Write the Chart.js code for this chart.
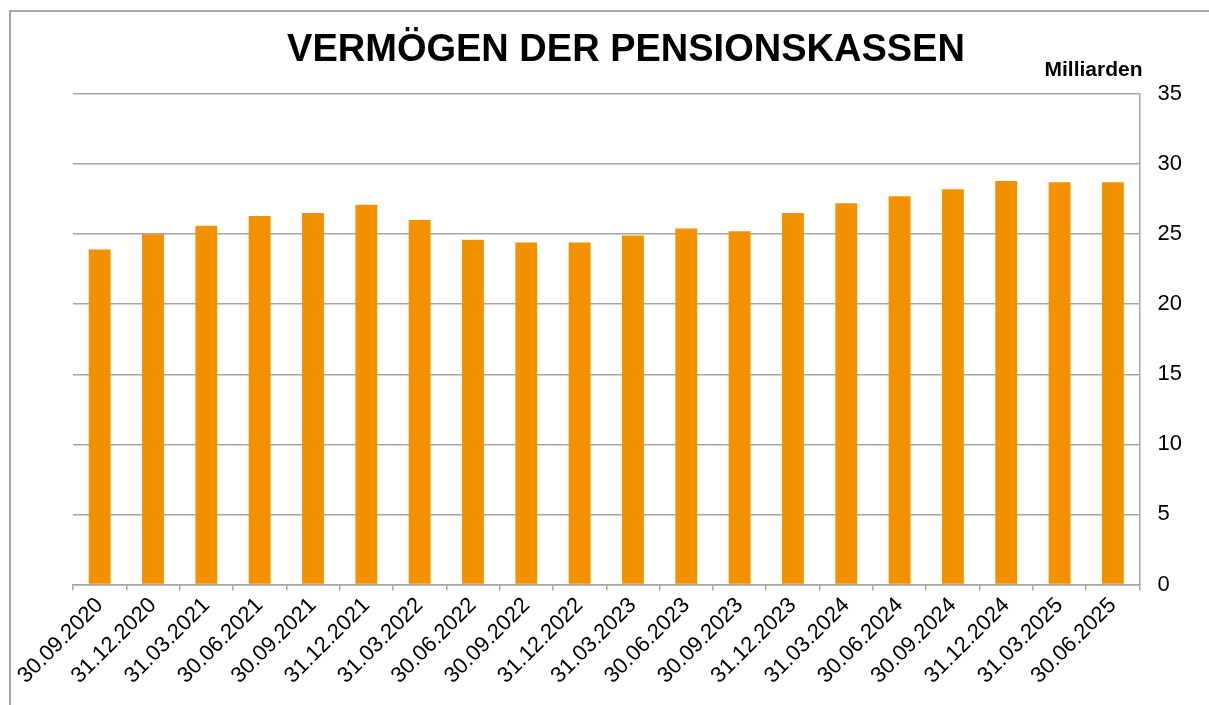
<!DOCTYPE html>
<html>
<head>
<meta charset="utf-8">
<script src="https://cdn.jsdelivr.net/npm/chart.js@4"></script>
<style>
  html, body { margin: 0; padding: 0; background: #fff; }
  #wrap { position: relative; width: 1209px; height: 705px; overflow: hidden; }
  #frame { position: absolute; left: 9px; top: 10px; width: 1300px; height: 800px;
           border-left: 2px solid #a6a6a6; border-top: 2px solid #a6a6a6; }
  canvas { position: absolute; left: 0; top: 0; }
</style>
</head>
<body>
<div id="wrap">
  <div id="frame"></div>
  <canvas id="myChart"></canvas>
</div>
<script>
const title = "VERMÖGEN DER PENSIONSKASSEN";
const unit = "Milliarden";
const dates = ["30.09.2020", "31.12.2020", "31.03.2021", "30.06.2021", "30.09.2021",
  "31.12.2021", "31.03.2022", "30.06.2022", "30.09.2022", "31.12.2022",
  "31.03.2023", "30.06.2023", "30.09.2023", "31.12.2023", "31.03.2024",
  "30.06.2024", "30.09.2024", "31.12.2024", "31.03.2025", "30.06.2025"];
const vermoegen = [23.9, 25.0, 25.6, 26.3, 26.5, 27.1, 26.0, 24.6, 24.4, 24.4,
  24.9, 25.4, 25.2, 26.5, 27.2, 27.7, 28.2, 28.8, 28.7, 28.7];
const yTicks = [0, 5, 10, 15, 20, 25, 30, 35];

// title and unit label drawn on top of the chart
const headings = {
  id: 'headings',
  afterDraw(chart) {
    const c = chart.ctx;
    const area = chart.chartArea;
    c.save();
    c.fillStyle = '#000';
    c.textBaseline = 'middle';
    c.textAlign = 'center';
    c.font = 'bold 38px "Liberation Sans", Arial, sans-serif';
    c.fillText(title, 626, 51);
    c.textAlign = 'right';
    c.font = 'bold 21px "Liberation Sans", Arial, sans-serif';
    c.fillText(unit, area.right + 3, 70);
    c.restore();
  }
};

const ctx = document.getElementById('myChart').getContext('2d');
const myChart = new Chart(ctx, {
  type: 'bar',
  data: {
    labels: dates,
    datasets: [{
      data: vermoegen,
      backgroundColor: '#f39200',
      borderWidth: 0,
      barPercentage: 0.41,
      categoryPercentage: 1.0
    }]
  },
  options: {
    responsive: true,
    maintainAspectRatio: false,
    animation: false,
    layout: { padding: { top: 94, right: 9, left: 73, bottom: 14 } },
    plugins: {
      legend: { display: false },
      tooltip: { enabled: false }
    },
    scales: {
      x: {
        offset: true,
        grid: {
          offset: true,
          drawOnChartArea: false,
          drawTicks: true,
          tickLength: 6,
          color: '#a6a6a6',
          lineWidth: 1.5
        },
        border: { color: '#a6a6a6', width: 1.5 },
        ticks: {
          minRotation: 45,
          maxRotation: 45,
          padding: 2,
          color: '#000',
          font: { family: '"Liberation Sans", Arial, sans-serif', size: 22 }
        }
      },
      y: {
        position: 'right',
        min: 0,
        max: 35,
        afterBuildTicks(axis) { axis.ticks = yTicks.map(v => ({ value: v })); },
        grid: { color: '#a6a6a6', lineWidth: 1.5, drawTicks: false },
        border: { color: '#a6a6a6', width: 1.5 },
        ticks: {
          padding: 18,
          color: '#000',
          font: { family: '"Liberation Sans", Arial, sans-serif', size: 22 }
        }
      }
    }
  },
  plugins: [headings]
});
</script>
</body>
</html>
